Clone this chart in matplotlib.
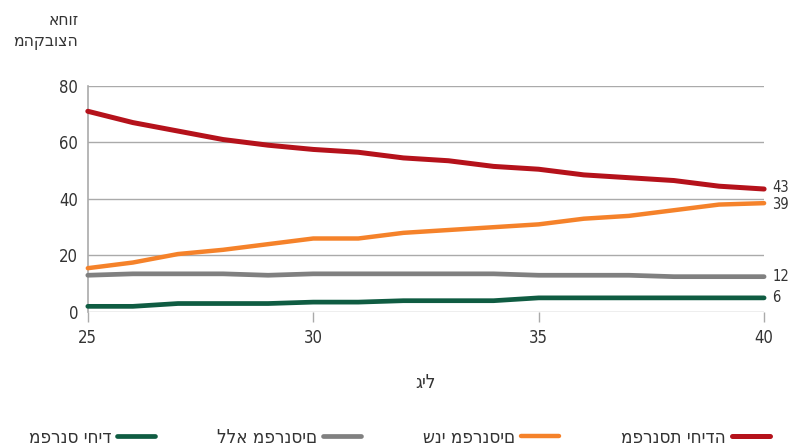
import numpy as np
import matplotlib
matplotlib.use("Agg")
import matplotlib.pyplot as plt

plt.rcParams['font.family'] = ['DejaVu Sans']
plt.rcParams['font.stretch'] = 'condensed'

# ---------------------------------------------------------------- #
# data
ages = list(range(25, 41))
single_female = [71, 67, 64, 61, 59, 57.5, 56.5, 54.5, 53.5, 51.5, 50.5, 48.5, 47.5, 46.5, 44.5, 43.5]
two_earners = [15.5, 17.5, 20.5, 22, 24, 26, 26, 28, 29, 30, 31, 33, 34, 36, 38, 38.5]
no_earners = [13, 13.5, 13.5, 13.5, 13, 13.5, 13.5, 13.5, 13.5, 13.5, 13, 13, 13, 12.5, 12.5, 12.5]
single_male = [2, 2, 3, 3, 3, 3.5, 3.5, 4, 4, 4, 5, 5, 5, 5, 5, 5]
end_labels = ["43", "39", "12", "6"]

names = ["מפרנסת יחידה", "שני מפרנסים", "ללא מפרנסים", "מפרנס יחיד"]
colors = ["#b5121b", "#f5822a", "#808080", "#0f5c42"]
widths = [3.6, 3.2, 3.4, 3.4]
txt_col = '#333333'

# ---------------------------------------------------------------- #
fig = plt.figure(figsize=(7.91, 4.47), dpi=100)
renderer = fig.canvas.get_renderer()

heb_size = 12.5
leg_size = 13.5

ax = fig.add_axes([0.111, 0.302, 0.855, 0.506])

series = [single_female, two_earners, no_earners, single_male]
handles = []
for vals, col, lw, name in zip(series, colors, widths, names):
    h, = ax.plot(ages, vals, color=col, lw=lw, solid_capstyle='round', clip_on=False, zorder=3, label=name)
    handles.append(h)

# end-of-line value labels
offsets = [1, -1, 0, 0]
for vals, lab, off in zip(series, end_labels, offsets):
    ax.annotate(lab, xy=(ages[-1], vals[-1]), xytext=(6, off), textcoords='offset points',
                va='center', ha='left', fontsize=10.5, color=txt_col)

ax.set_xlim(25, 40)
ax.set_ylim(0, 80)
ax.set_xticks([25, 30, 35, 40])
ax.set_yticks([0, 20, 40, 60, 80])
ax.grid(axis='y', color='#aaaaaa', lw=1)
ax.set_axisbelow(True)

for s in ['top', 'right', 'bottom']:
    ax.spines[s].set_visible(False)
ax.spines['left'].set_color('#aaaaaa')
ax.spines['left'].set_linewidth(1.2)

ax.tick_params(axis='y', length=0, pad=7, labelsize=12, labelcolor=txt_col)
ax.tick_params(axis='x', length=7, width=1, color='#aaaaaa', pad=5, labelsize=12, labelcolor=txt_col)

ax.set_xlabel("גיל", va='baseline', fontsize=leg_size, color=txt_col)
ax.xaxis.set_label_coords(0.499, -0.336)
fig.text(0.099, 0.943, "אחוז", ha='right', va='baseline', fontsize=heb_size, color=txt_col)
fig.text(0.099, 0.898, "מהקבוצה", ha='right', va='baseline', fontsize=heb_size, color=txt_col)

# ---------------- #
# legend: left-to-right is reverse of the series order, handle to the right of text
leg_handles = handles[::-1]
leg_names = [h.get_label() for h in leg_handles]
# measure label widths so the handles land where the reference has them (117 ... 732 px)
text_w = []
for n in leg_names:
    t = fig.text(0, 0, n, fontsize=leg_size)
    text_w.append(t.get_window_extent(renderer).width)
    t.remove()
px = leg_size * 100 / 72  # pixels per font-size unit
pad_px, hl_px = 6, 38
col_px = ((732 - 117) - sum(text_w[1:]) - 3 * (pad_px + hl_px)) / 3
x0 = 117 - pad_px - text_w[0]
leg = fig.legend(leg_handles, leg_names, loc='center left',
                 bbox_to_anchor=(x0 / 791, 0.022), ncol=4, frameon=False, markerfirst=False,
                 prop=dict(size=leg_size),
                 handlelength=hl_px / px, columnspacing=col_px / px, handletextpad=pad_px / px,
                 borderaxespad=0, borderpad=0, labelcolor=txt_col)

fig.savefig("out.png", dpi=100)
